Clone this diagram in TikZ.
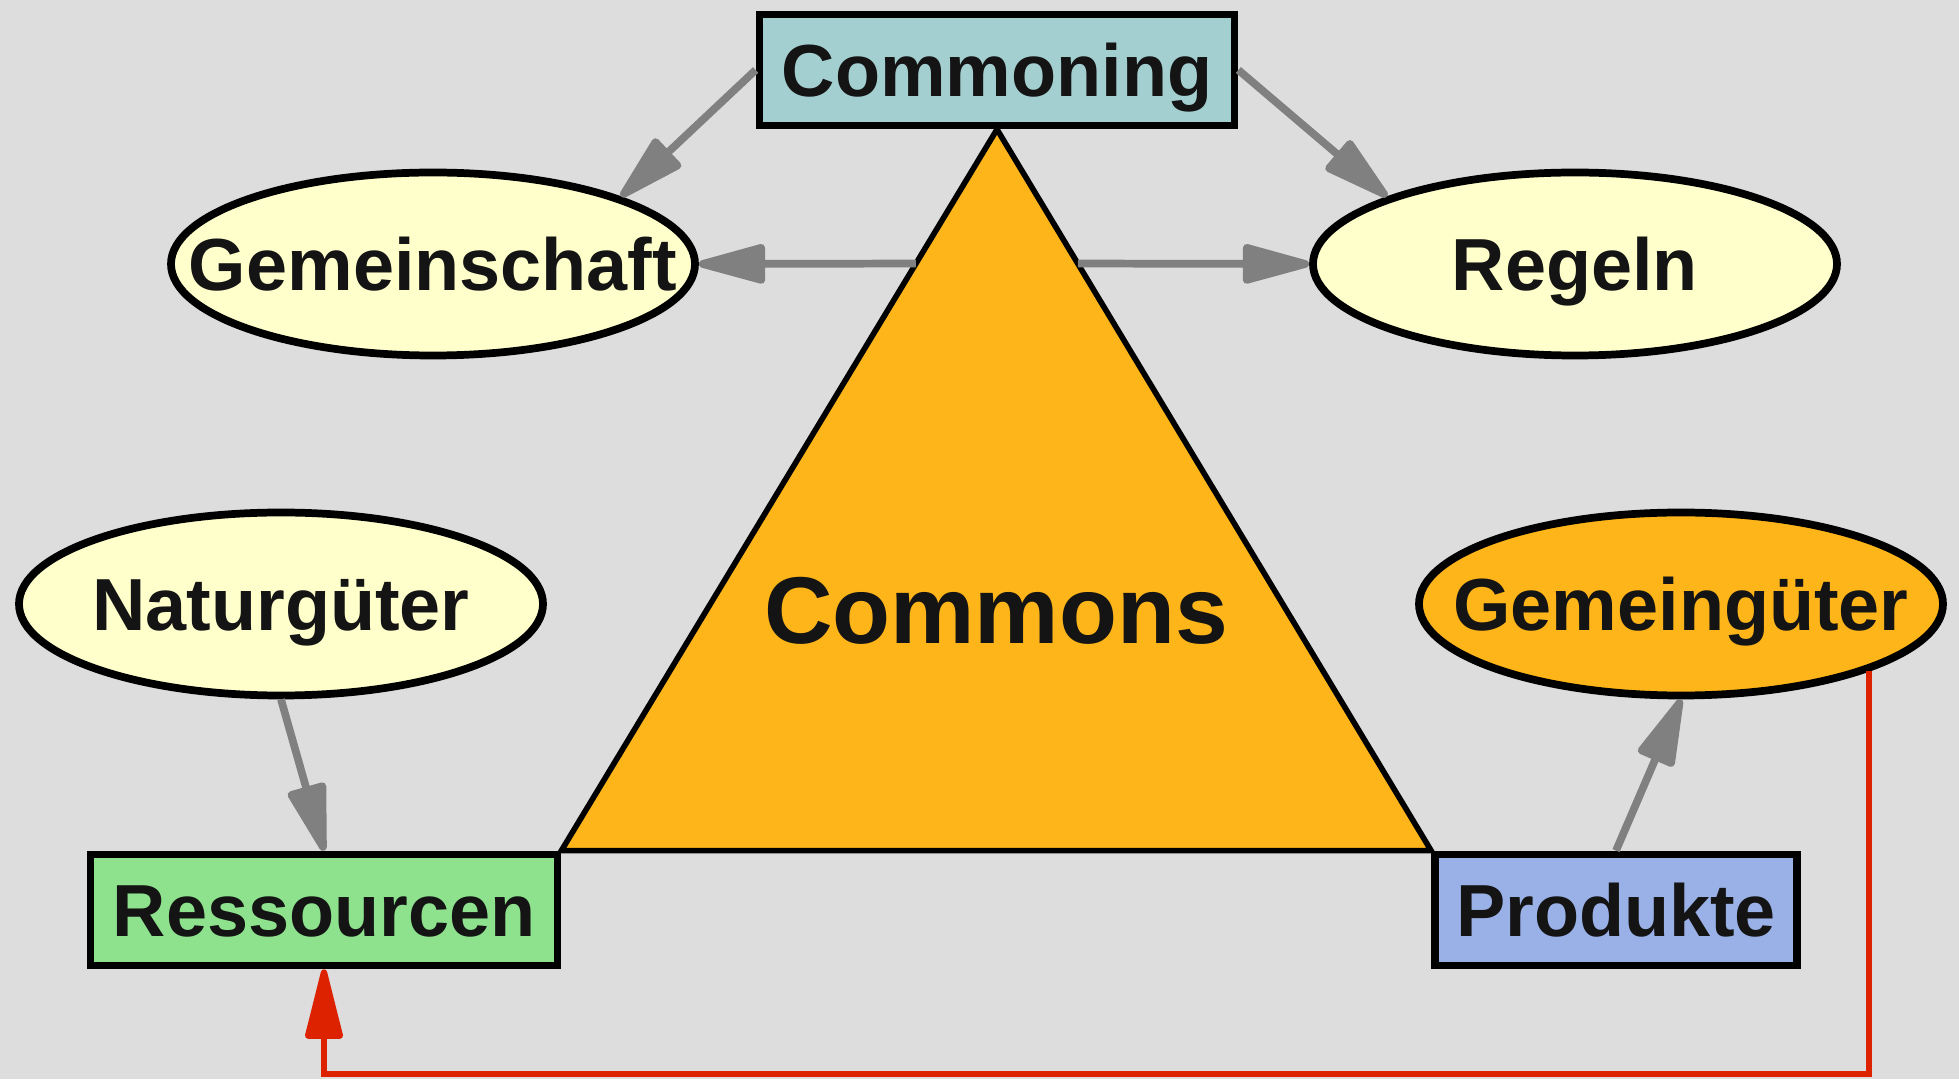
\documentclass[tikz,border=0pt]{standalone}
\usepackage{fontspec}
\setmainfont{Liberation Sans}
\usetikzlibrary{arrows.meta, calc, shapes.geometric}
\definecolor{bgc}{HTML}{DDDDDD}
\definecolor{txt}{HTML}{141414}
\definecolor{tealc}{HTML}{A4CFD0}
\definecolor{lightyel}{HTML}{FFFFCC}
\definecolor{orangec}{HTML}{FEB519}
\definecolor{greenc}{HTML}{8EE28E}
\definecolor{bluec}{HTML}{9AB1E8}
\definecolor{arrgray}{HTML}{808080}
\definecolor{redc}{HTML}{DD2200}

\begin{document}
\begin{tikzpicture}[
    box/.style={draw, line width=2.2pt, font=\fontsize{21}{25}\selectfont\bfseries, text=txt, inner sep=0pt, minimum height=1.11cm, text height=0.53cm, text depth=0pt},
    ell/.style={draw, ellipse, line width=2.2pt, fill=lightyel, font=\fontsize{21}{25}\selectfont\bfseries, text=txt, inner xsep=-1.5cm, inner ysep=0pt, minimum width=5.24cm, minimum height=1.83cm, text height=0.53cm, text depth=0pt},
    arr/.style={-{Triangle[length=0.78cm, width=0.4cm, round]}, line width=2.2pt, arrgray},
]
    \fill[bgc] (0,0) rectangle (19.59,10.79);
    \useasboundingbox (0,0) rectangle (19.59,10.79);

    \node[box, fill=tealc, minimum width=4.75cm] (com) at (9.97,10.09) {Commoning};
    \node[ell] (gem) at (4.33,8.15) {Gemeinschaft};
    \node[ell] (reg) at (15.75,8.15) {Regeln};
    \node[ell] (nat) at (2.81,4.75) {Naturgüter};
    \node[ell, fill=orangec] (gg) at (16.81,4.75) {Gemeingüter};
    \node[box, fill=greenc, minimum width=4.67cm] (res) at (3.24,1.69) {Ressourcen};
    \node[box, fill=bluec, minimum width=3.62cm] (prod) at (16.16,1.69) {Produkte};

    \draw[line width=1.6pt, fill=orangec, line join=miter] (com.south) -- (res.north east) -- (prod.north west) -- cycle;
    \node[font=\fontsize{27}{32}\selectfont\bfseries, text=txt] (cms) at (9.96,4.68) {Commons};

    \coordinate (tl) at ($(com.south)!0.186!(res.north east)$);
    \coordinate (tr) at ($(com.south)!0.186!(prod.north west)$);
    \coordinate (bot) at (3.24,0.05);

    \draw[arr] (com.west) -- (gem.north east);
    \draw[arr] (com.east) -- (reg.north west);
    \draw[arr] (tl) -- (gem.east);
    \draw[arr] (tr) -- (reg.west);
    \draw[arr] (nat.south) -- (res.north);
    \draw[arr] (prod.north) -- (gg.south);
    \draw[-{Triangle[length=0.8cm, width=0.38cm, round]}, line width=1.8pt, redc] (gg.south east) |- (bot) -- (res.south);
\end{tikzpicture}
\end{document}
